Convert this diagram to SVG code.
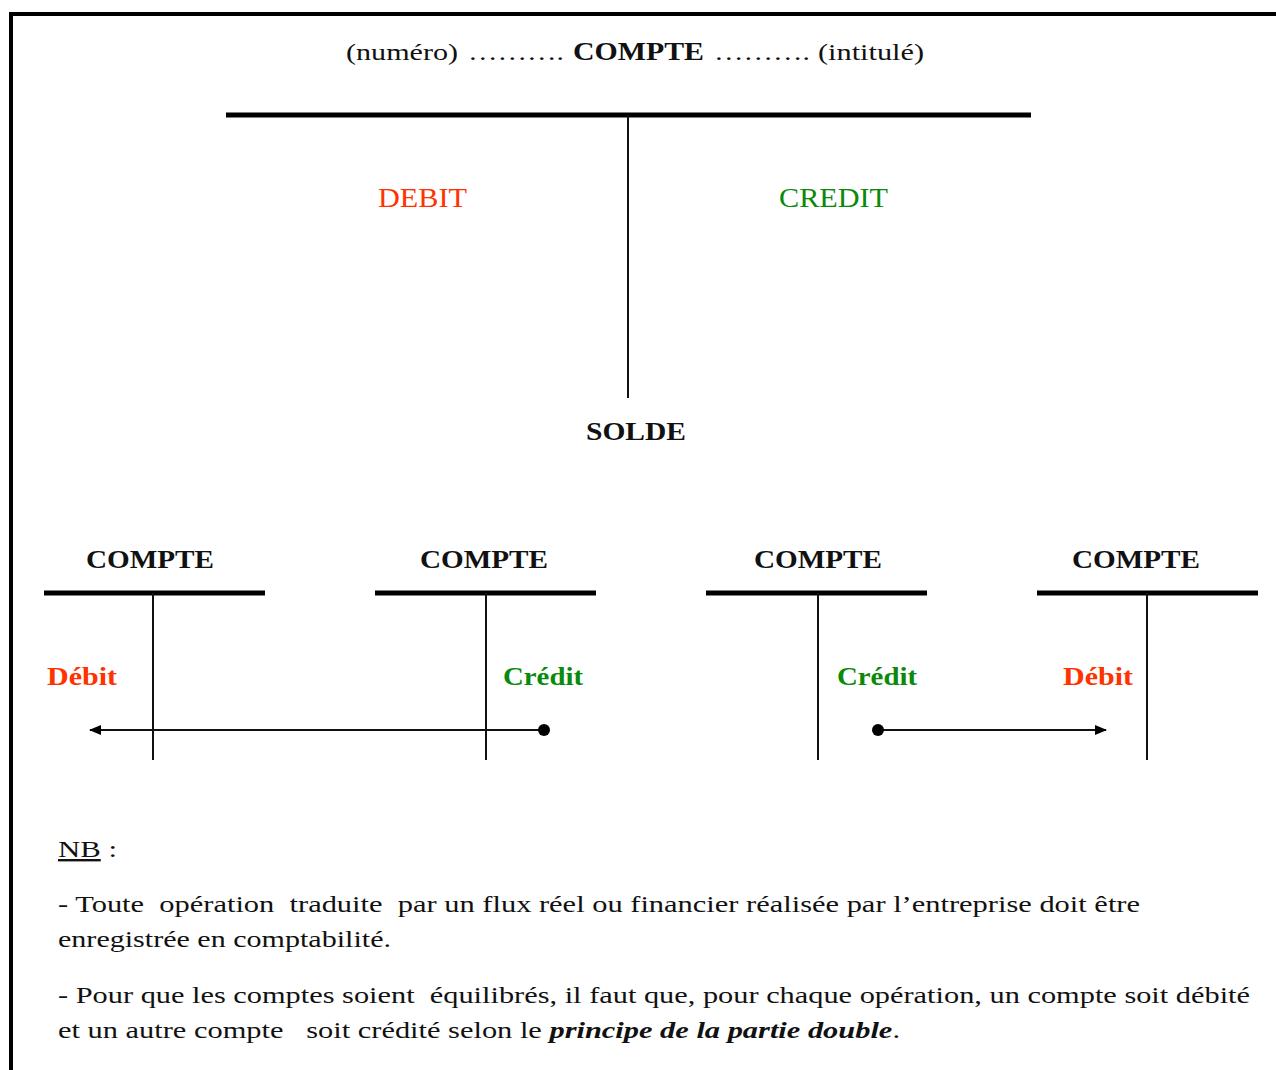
<svg xmlns="http://www.w3.org/2000/svg" width="1276" height="1070" viewBox="0 0 1276 1070">
<style>
text{font-family:"Liberation Serif","Times New Roman",serif;fill:#111}
.b{font-weight:bold}
.red{fill:#ff3300}
.grn{fill:#0a8a0a}
.thick{stroke:#000;stroke-width:5}
.thin{stroke:#111;stroke-width:2}
.conn{stroke:#111;stroke-width:2;fill:none}
</style>
<defs>
<marker id="ah" viewBox="0 0 12 10" refX="11" refY="5" markerWidth="12" markerHeight="10" markerUnits="userSpaceOnUse" orient="auto"><path d="M0,0 L12,5 L0,10 Z" fill="#000"/></marker>
<marker id="dot" viewBox="0 0 12 12" refX="6" refY="6" markerWidth="12" markerHeight="12" markerUnits="userSpaceOnUse"><circle cx="6" cy="6" r="6" fill="#000"/></marker>
</defs>
<rect width="1276" height="1070" fill="#fff"/>
<path d="M11,1070 V14 H1276" fill="none" stroke="#000" stroke-width="4"/>

<g id="main-account">
<text x="346" y="60" font-size="23" textLength="112" lengthAdjust="spacingAndGlyphs">(numéro)</text>
<text x="468" y="60" font-size="23" textLength="96" lengthAdjust="spacingAndGlyphs">……….</text>
<text x="573" y="60" font-size="25" class="b" textLength="131" lengthAdjust="spacingAndGlyphs">COMPTE</text>
<text x="714" y="60" font-size="23" textLength="96" lengthAdjust="spacingAndGlyphs">……….</text>
<text x="818" y="60" font-size="23" textLength="106" lengthAdjust="spacingAndGlyphs">(intitulé)</text>
<line class="thick" x1="226" y1="115" x2="1031" y2="115"/>
<line class="thin" x1="628" y1="115" x2="628" y2="398"/>
<text x="378" y="207" font-size="27" class="red" textLength="89" lengthAdjust="spacingAndGlyphs">DEBIT</text>
<text x="779" y="207" font-size="27" class="grn" textLength="109" lengthAdjust="spacingAndGlyphs">CREDIT</text>
<text x="586" y="440" font-size="26" class="b" textLength="100" lengthAdjust="spacingAndGlyphs">SOLDE</text>
</g>

<g id="account-1">
<text x="86" y="568" font-size="26" class="b" textLength="128" lengthAdjust="spacingAndGlyphs">COMPTE</text>
<line class="thick" x1="44" y1="593" x2="265" y2="593"/>
<line class="thin" x1="153" y1="593" x2="153" y2="760"/>
<text x="47" y="685" font-size="26" class="b red" textLength="70" lengthAdjust="spacingAndGlyphs">Débit</text>
</g>
<g id="account-2">
<text x="420" y="568" font-size="26" class="b" textLength="128" lengthAdjust="spacingAndGlyphs">COMPTE</text>
<line class="thick" x1="375" y1="593" x2="596" y2="593"/>
<line class="thin" x1="486" y1="593" x2="486" y2="760"/>
<text x="503" y="685" font-size="26" class="b grn" textLength="80" lengthAdjust="spacingAndGlyphs">Crédit</text>
</g>
<g id="account-3">
<text x="754" y="568" font-size="26" class="b" textLength="128" lengthAdjust="spacingAndGlyphs">COMPTE</text>
<line class="thick" x1="706" y1="593" x2="927" y2="593"/>
<line class="thin" x1="818" y1="593" x2="818" y2="760"/>
<text x="837" y="685" font-size="26" class="b grn" textLength="80" lengthAdjust="spacingAndGlyphs">Crédit</text>
</g>
<g id="account-4">
<text x="1072" y="568" font-size="26" class="b" textLength="128" lengthAdjust="spacingAndGlyphs">COMPTE</text>
<line class="thick" x1="1037" y1="593" x2="1258" y2="593"/>
<line class="thin" x1="1147" y1="593" x2="1147" y2="760"/>
<text x="1063" y="685" font-size="26" class="b red" textLength="70" lengthAdjust="spacingAndGlyphs">Débit</text>
</g>

<g id="connectors">
<line class="conn" x1="544" y1="730" x2="90" y2="730" marker-start="url(#dot)" marker-end="url(#ah)"/>
<line class="conn" x1="878" y1="730" x2="1106" y2="730" marker-start="url(#dot)" marker-end="url(#ah)"/>
</g>

<g id="note">
<text x="58" y="857" font-size="24" textLength="59" lengthAdjust="spacingAndGlyphs"><tspan text-decoration="underline">NB</tspan> :</text>
<text x="58" y="912" font-size="23" textLength="1082" lengthAdjust="spacingAndGlyphs" xml:space="preserve">- Toute  opération  traduite  par un flux réel ou financier réalisée par l’entreprise doit être</text>
<text x="58" y="947" font-size="23" textLength="333" lengthAdjust="spacingAndGlyphs">enregistrée en comptabilité.</text>
<text x="58" y="1003" font-size="23" textLength="1192" lengthAdjust="spacingAndGlyphs" xml:space="preserve">- Pour que les comptes soient  équilibrés, il faut que, pour chaque opération, un compte soit débité</text>
<text x="58" y="1038" font-size="23" textLength="842" lengthAdjust="spacingAndGlyphs" xml:space="preserve">et un autre compte   soit crédité selon le <tspan font-weight="bold" font-style="italic">principe de la partie double</tspan>.</text>
</g>
</svg>
